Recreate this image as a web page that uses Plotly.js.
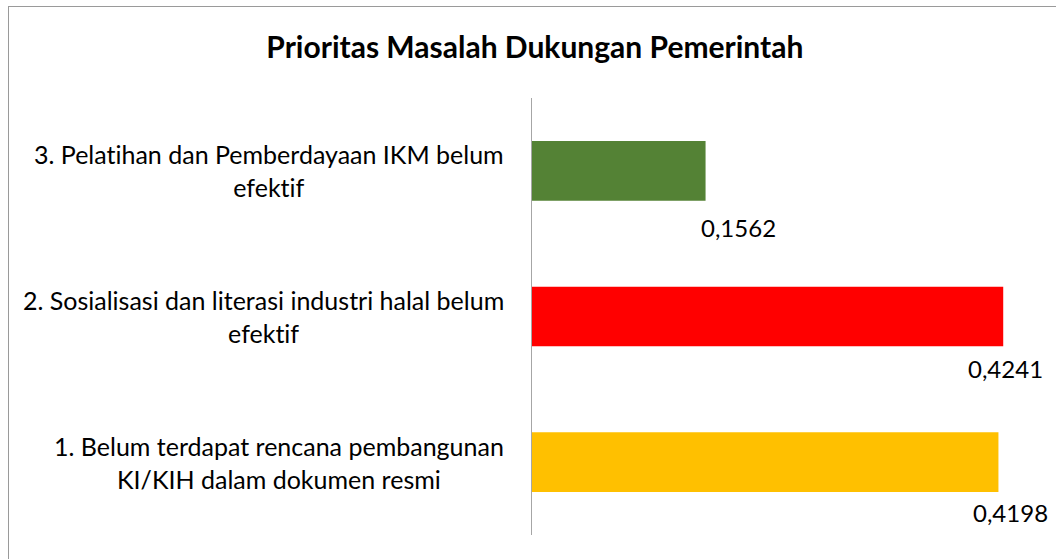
<!DOCTYPE html>
<html>
<head>
<meta charset="utf-8">
<script src="https://cdn.plot.ly/plotly-3.0.1.min.js"></script>
<style>
  html, body { margin: 0; padding: 0; background: #fff; }
  #wrap { position: relative; width: 1056px; height: 559px; overflow: hidden; }
  #chart { width: 1056px; height: 559px; }
  #frame { position: absolute; left: 8px; top: 6px; width: 1200px; height: 700px;
           border: 1.5px solid #9a9a9a; pointer-events: none; box-sizing: border-box; }
  svg text { font-variant-ligatures: none; font-feature-settings: "liga" 0, "clig" 0; }
</style>
</head>
<body>
<div id="wrap">
  <div id="chart"></div>
  <div id="frame"></div>
</div>
<script>
// Data (bottom to top)
const categories = [
  "1. Belum terdapat rencana pembangunan<br>KI/KIH dalam dokumen resmi",
  "2. Sosialisasi dan literasi industri halal belum<br>efektif",
  "3. Pelatihan dan Pemberdayaan IKM belum<br>efektif"
];
const values = [0.4198, 0.4241, 0.1562];
const valueLabels = ["0,4198", "0,4241", "0,1562"];
const barColors = ["#FFC000", "#FF0000", "#548235"];

// Layout-only offsets for value labels (pixels)
const labelXShift = [12, 2, 33];
const labelYShift = [-50, -52, -57];

const FONT = "Lato, 'Open Sans', sans-serif";

const trace = {
  type: "bar",
  orientation: "h",
  y: categories,
  x: values,
  width: 0.41,
  marker: { color: barColors },
  hoverinfo: "none"
};

const annotations = [];
categories.forEach((c, i) => {
  annotations.push({
    xref: "x", yref: "y", x: 0, y: c,
    text: c, showarrow: false,
    xanchor: "right", yanchor: "middle", align: "center",
    xshift: -26,
    font: { family: FONT, size: 25, color: "#000" }
  });
  annotations.push({
    xref: "x", yref: "y", x: values[i], y: c,
    text: valueLabels[i], showarrow: false,
    xanchor: "center", yanchor: "middle",
    xshift: labelXShift[i], yshift: labelYShift[i],
    font: { family: FONT, size: 24, color: "#000" }
  });
});

const layout = {
  width: 1056, height: 559,
  margin: { l: 532, r: 24, t: 98, b: 24 },
  paper_bgcolor: "rgba(0,0,0,0)",
  plot_bgcolor: "rgba(0,0,0,0)",
  showlegend: false,
  title: {
    text: "<b>Prioritas Masalah Dukungan Pemerintah</b>",
    x: 0.5065, xanchor: "center",
    y: 0.915, yanchor: "middle",
    font: { family: FONT, size: 30, color: "#000" }
  },
  xaxis: {
    range: [0, 0.45], showgrid: false, zeroline: false,
    showticklabels: false, showline: false, ticks: ""
  },
  yaxis: {
    type: "category", range: [-0.5, 2.5],
    showgrid: false, zeroline: false, showticklabels: false,
    showline: true, linecolor: "#a6a6a6", linewidth: 1, ticks: ""
  },
  annotations: annotations
};

Plotly.newPlot("chart", [trace], layout, { displayModeBar: false, staticPlot: true });
</script>
</body>
</html>
